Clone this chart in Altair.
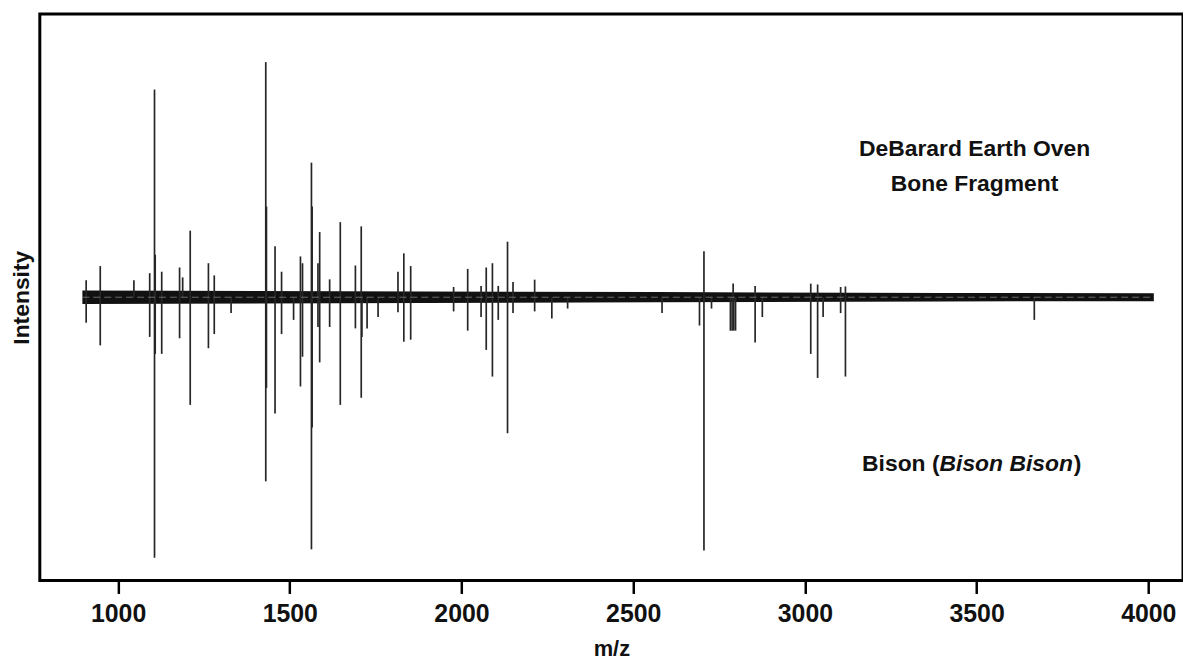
import altair as alt
import pandas as pd

# Upper spectrum: DeBarard Earth Oven bone fragment
top_mz = [907, 948, 1046, 1092, 1106, 1108, 1127, 1179, 1188, 1210, 1263, 1280,
          1430, 1432, 1457, 1476, 1531, 1537, 1563, 1565, 1582, 1587, 1616, 1647,
          1691, 1708, 1815, 1832, 1852, 1977, 2018, 2057, 2072, 2090, 2107, 2134,
          2150, 2213, 2706, 2791, 2855, 3017, 3037, 3104, 3118]
top_int = [0.06, 0.11, 0.06, 0.085, 0.733, 0.15, 0.09, 0.105, 0.07, 0.235, 0.12, 0.077,
           0.83, 0.32, 0.18, 0.09, 0.144, 0.12, 0.475, 0.32, 0.12, 0.23, 0.063, 0.265,
           0.112, 0.25, 0.09, 0.155, 0.11, 0.036, 0.10, 0.04, 0.105, 0.12, 0.04, 0.196,
           0.054, 0.062, 0.162, 0.048, 0.04, 0.048, 0.045, 0.036, 0.038]

# Lower (mirrored) spectrum: Bison (Bison bison) reference
bot_mz = [907, 948, 1092, 1106, 1108, 1127, 1179, 1210, 1263, 1280, 1329,
          1430, 1432, 1457, 1476, 1511, 1531, 1537, 1563, 1565, 1582, 1587, 1616,
          1647, 1691, 1708, 1710, 1725, 1757, 1815, 1832, 1852, 1977, 2018, 2057,
          2072, 2090, 2107, 2134, 2150, 2213, 2263, 2309, 2584, 2693, 2706, 2728,
          2783, 2788, 2793, 2798, 2855, 2876, 3017, 3037, 3053, 3104, 3118, 3668]
bot_int = [-0.09, -0.17, -0.14, -0.92, -0.20, -0.20, -0.145, -0.38, -0.18, -0.13, -0.056,
           -0.65, -0.32, -0.41, -0.13, -0.08, -0.315, -0.21, -0.89, -0.46, -0.105, -0.23, -0.105,
           -0.38, -0.11, -0.355, -0.14, -0.11, -0.07, -0.053, -0.157, -0.15, -0.05, -0.118, -0.07,
           -0.186, -0.28, -0.08, -0.48, -0.056, -0.05, -0.075, -0.04, -0.056, -0.10, -0.894, -0.04,
           -0.118, -0.118, -0.118, -0.118, -0.16, -0.07, -0.2, -0.285, -0.07, -0.056, -0.28, -0.08]

# Noise band envelope around the baseline (m/z, half-height)
band_mz = [896, 1640, 2570, 3400, 4016]
band_half = [0.024, 0.021, 0.018, 0.015, 0.014]

# Annotations
label_top = ["DeBarard Earth Oven", "Bone Fragment"]
label_top_mz = [3494, 3494]
label_top_int = [0.523, 0.40]
bison_anchor_mz = 3392
bison_anchor_int = -0.59

x_ticks = [1000, 1500, 2000, 2500, 3000, 3500, 4000]

peaks = pd.DataFrame({
    "mz": top_mz + bot_mz,
    "intensity": top_int + bot_int,
    "base": [0.0] * (len(top_mz) + len(bot_mz)),
})
band = pd.DataFrame({
    "mz": band_mz,
    "intensity": [-h for h in band_half],
    "hi": band_half,
    "zero": [0.0] * len(band_mz),
})
txt_top = pd.DataFrame({"mz": label_top_mz, "intensity": label_top_int, "t": label_top})
txt_b = pd.DataFrame({"mz": [bison_anchor_mz], "intensity": [bison_anchor_int]})

FONT = "Liberation Sans"
xscale = alt.Scale(domain=[772, 4101], nice=False, zero=False)
yscale = alt.Scale(domain=[-1, 1], nice=False)
xaxis = alt.Axis(values=x_ticks, format="d", title="m/z", grid=False, domain=False,
                 tickSize=13, tickWidth=2.5, tickColor="black",
                 labelFont=FONT, labelFontSize=25, labelFontWeight="bold",
                 labelColor="#111", labelPadding=8,
                 titleFont=FONT, titleFontSize=22, titleFontWeight="bold",
                 titleColor="#111", titlePadding=12)
yaxis = alt.Axis(title="Intensity", grid=False, domain=False, ticks=False, labels=False,
                 titleFont=FONT, titleFontSize=23, titleFontWeight="bold",
                 titleColor="#111", titlePadding=6)

X = alt.X("mz:Q", scale=xscale, axis=xaxis)
Y = alt.Y("intensity:Q", scale=yscale, axis=yaxis)

band_layer = alt.Chart(band).mark_area(color="#111").encode(x=X, y=Y, y2="hi:Q")

peak_layer = alt.Chart(peaks).mark_rule(color="#262626", strokeWidth=1.7).encode(
    x=X, y=Y, y2="base:Q")

mid_layer = alt.Chart(band).mark_line(color="#cccccc", strokeWidth=0.8,
                                      strokeDash=[7, 4], opacity=0.6).encode(
    x=X, y=alt.Y("zero:Q", scale=yscale, axis=yaxis))

tfont = dict(font=FONT, fontSize=23, fontWeight="bold", color="#111")
top_text = alt.Chart(txt_top).mark_text(align="center", baseline="middle", **tfont).encode(
    x=X, y=Y, text="t:N")
b1 = alt.Chart(txt_b).mark_text(align="right", baseline="middle", text="Bison (", **tfont).encode(x=X, y=Y)
b2 = alt.Chart(txt_b).mark_text(align="left", baseline="middle", text="Bison Bison",
                                fontStyle="italic", **tfont).encode(x=X, y=Y)
b3 = alt.Chart(txt_b).mark_text(align="left", baseline="middle", text=")", dx=135, **tfont).encode(x=X, y=Y)

chart = alt.layer(band_layer, peak_layer, mid_layer, top_text, b1, b2, b3).properties(
    width=1150, height=570,
    padding={"left": 3, "top": 4, "right": 0, "bottom": 0},
    background="white",
).configure_view(stroke="black", strokeWidth=3)

chart.save("out.html", embed_options={"renderer": "svg", "actions": False})
